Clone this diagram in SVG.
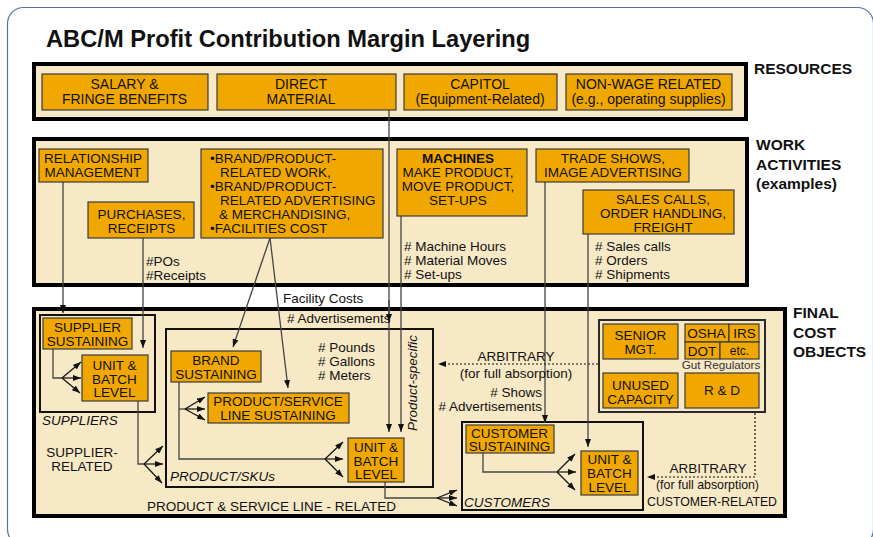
<svg xmlns="http://www.w3.org/2000/svg" width="873" height="537" viewBox="0 0 873 537">
  <defs>
    <style>
      .t{font-family:"Liberation Sans",Arial,Helvetica,sans-serif;font-size:13.5px;fill:#111}
      .c{text-anchor:middle}
      .e{text-anchor:end}
      .i{font-style:italic}
      .b{font-weight:bold}
      .lbl{font-family:"Liberation Sans",Arial,Helvetica,sans-serif;font-size:15.5px;font-weight:bold;fill:#111}
      .ctr{fill:#f7e9c6;stroke:#000;stroke-width:4}
      .sub{fill:#f7e9c6;stroke:#111;stroke-width:2}
      .box{fill:#f0a800;stroke:#3b3b3b;stroke-width:1.2}
      .ln{fill:none;stroke:#444;stroke-width:1.3}
      .ar{marker-end:url(#ah)}
      .fan{fill:none;stroke:#111;stroke-width:1.2;marker-end:url(#ah)}
      .dot{fill:none;stroke:#111;stroke-width:1.2;stroke-dasharray:2 2;marker-end:url(#ah)}
    </style>
    <marker id="ah" viewBox="0 0 8 6" refX="8" refY="3" markerWidth="8" markerHeight="6" markerUnits="userSpaceOnUse" orient="auto">
      <path d="M0,0 L8,3 L0,6 z" fill="#111"/>
    </marker>
  </defs>

  <!-- page frame -->
  <rect x="7.5" y="7.5" width="866" height="538" rx="16" fill="#fff" stroke="#5373a3" stroke-width="1.2"/>

  <text x="46" y="47" class="t b" style="font-size:23.7px">ABC/M Profit Contribution Margin Layering</text>

  <!-- layer containers -->
  <g id="layers">
    <rect class="ctr" x="34" y="64" width="712" height="55"/>
    <rect class="ctr" x="34" y="139" width="713" height="146"/>
    <rect class="ctr" x="34" y="309" width="751" height="207"/>
    <text class="lbl" x="754" y="74">RESOURCES</text>
    <text class="lbl" x="756" y="150">WORK</text>
    <text class="lbl" x="756" y="169.5">ACTIVITIES</text>
    <text class="lbl" x="756" y="189">(examples)</text>
    <text class="lbl" x="793" y="318">FINAL</text>
    <text class="lbl" x="793" y="337.5">COST</text>
    <text class="lbl" x="793" y="357">OBJECTS</text>
  </g>

  <!-- cost object groupings -->
  <g id="suppliers">
    <rect class="sub" x="40" y="315" width="115" height="97"/>
    <text class="t i" x="42" y="425">SUPPLIERS</text>
    <text class="t c" x="82" y="457">SUPPLIER-</text>
    <text class="t c" x="82" y="470.5">RELATED</text>
  </g>
  <g id="products">
    <rect class="sub" x="166" y="329" width="267" height="158"/>
    <text class="t i" x="170" y="481">PRODUCT/SKUs</text>
    <text class="t" x="147" y="511">PRODUCT &amp; SERVICE LINE - RELATED</text>
  </g>
  <g id="customers">
    <rect class="sub" x="462" y="422" width="181" height="88"/>
    <text class="t i" x="464" y="507">CUSTOMERS</text>
  </g>
  <g id="overhead">
    <rect class="sub" x="599" y="320" width="166" height="92" style="stroke:#2a2a2a"/>
  </g>

  <!-- connectors -->
  <g id="connectors">
    <path class="ln ar" d="M389,110 V432"/>
    <path class="ln ar" d="M389,300 V322"/>
    <path class="ln ar" d="M401,216 V432"/>
    <path class="ln ar" d="M63,182 V313"/>
    <path class="ln ar" d="M143,238 V348"/>
    <path class="ln ar" d="M270,238 L233,347"/>
    <path class="ln ar" d="M270,238 L288,388"/>
    <path class="ln ar" d="M545,182 V423"/>
    <path class="ln ar" d="M588,234 V447"/>

    <path class="ln" d="M53,349 V378 H62"/>
    <path class="fan" d="M62,378 L81,362"/>
    <path class="fan" d="M62,378 L81,378"/>
    <path class="fan" d="M62,378 L80,393"/>

    <path class="ln" d="M138,401 V464 H144"/>
    <path class="fan" d="M144,464 L163,446"/>
    <path class="fan" d="M144,464 L163,464"/>
    <path class="fan" d="M144,464 L162,483"/>

    <path class="ln" d="M179,382 V459 H325"/>
    <path class="ln" d="M179,409 H185"/>
    <path class="fan" d="M185,409 L205,397"/>
    <path class="fan" d="M185,409 L205,409"/>
    <path class="fan" d="M185,409 L205,420"/>
    <path class="fan" d="M325,459 L343,442"/>
    <path class="fan" d="M325,459 L343,459"/>
    <path class="fan" d="M325,459 L343,477"/>

    <path class="ln" d="M385,482 V498 H437"/>
    <path class="fan" d="M437,498 L457,490"/>
    <path class="fan" d="M437,498 L457,498"/>
    <path class="fan" d="M437,498 L457,506"/>

    <path class="ln" d="M483,453 V472 H557"/>
    <path class="fan" d="M557,472 L575,454"/>
    <path class="fan" d="M557,472 L576,472"/>
    <path class="fan" d="M557,472 L575,490"/>

    <path class="dot" d="M598,364 H438"/>
    <path class="dot" d="M755,413 V477 H647"/>

    <text class="t" x="283" y="303">Facility Costs</text>
    <text class="t" x="146" y="266">#POs</text>
    <text class="t" x="146" y="280">#Receipts</text>
    <text class="t" x="404" y="251"># Machine Hours</text>
    <text class="t" x="404" y="265"># Material Moves</text>
    <text class="t" x="404" y="279"># Set-ups</text>
    <text class="t" x="595" y="251"># Sales calls</text>
    <text class="t" x="595" y="265"># Orders</text>
    <text class="t" x="595" y="279"># Shipments</text>
    <text class="t" x="287" y="323"># Advertisements</text>
    <text class="t" x="318" y="352"># Pounds</text>
    <text class="t" x="318" y="366"># Gallons</text>
    <text class="t" x="318" y="379.5"># Meters</text>
    <text class="t c i" transform="translate(417,383) rotate(-90)">Product-specific</text>
    <text class="t c" x="516" y="361">ARBITRARY</text>
    <text class="t c" x="516" y="377.5">(for full absorption)</text>
    <text class="t e" x="542" y="397"># Shows</text>
    <text class="t e" x="542" y="411"># Advertisements</text>
    <text class="t c" x="708" y="473">ARBITRARY</text>
    <text class="t" x="656" y="489" textLength="103" lengthAdjust="spacingAndGlyphs">(for full absorption)</text>
    <text class="t" x="647" y="506" textLength="130" lengthAdjust="spacingAndGlyphs">CUSTOMER-RELATED</text>
  </g>

  <!-- resources -->
  <g id="salary">
    <rect class="box" x="42" y="74" width="166" height="36"/>
    <text class="t c" x="124.5" y="89" style="font-size:14px">SALARY &amp;</text>
    <text class="t c" x="124.5" y="104" style="font-size:14px">FRINGE BENEFITS</text>
  </g>
  <g id="direct-material">
    <rect class="box" x="217" y="74" width="179" height="36"/>
    <text class="t c" x="301" y="89" style="font-size:14px">DIRECT</text>
    <text class="t c" x="301" y="104" style="font-size:14px">MATERIAL</text>
  </g>
  <g id="capitol">
    <rect class="box" x="404" y="74" width="153" height="36"/>
    <text class="t c" x="480" y="89" style="font-size:14px">CAPITOL</text>
    <text class="t c" x="480" y="104" style="font-size:14px">(Equipment-Related)</text>
  </g>
  <g id="non-wage">
    <rect class="box" x="566" y="74" width="166" height="36"/>
    <text class="t c" x="648.5" y="89" style="font-size:14px">NON-WAGE RELATED</text>
    <text class="t c" x="648.5" y="104" style="font-size:14px">(e.g., operating supplies)</text>
  </g>

  <!-- work activities -->
  <g id="relationship">
    <rect class="box" x="39" y="149" width="109" height="33"/>
    <text class="t c" x="93" y="163">RELATIONSHIP</text>
    <text class="t c" x="93" y="177">MANAGEMENT</text>
  </g>
  <g id="purchases">
    <rect class="box" x="88" y="202" width="106" height="36"/>
    <text class="t c" x="141.5" y="219">PURCHASES,</text>
    <text class="t c" x="141.5" y="232.5">RECEIPTS</text>
  </g>
  <g id="brand-work">
    <rect class="box" x="201" y="149" width="182" height="89"/>
    <text class="t" x="210" y="163">•BRAND/PRODUCT-</text>
    <text class="t" x="220" y="177">RELATED WORK,</text>
    <text class="t" x="210" y="191">•BRAND/PRODUCT-</text>
    <text class="t" x="220" y="205">RELATED ADVERTISING</text>
    <text class="t" x="219" y="219">&amp; MERCHANDISING,</text>
    <text class="t" x="210" y="233">•FACILITIES COST</text>
  </g>
  <g id="machines">
    <rect class="box" x="397" y="149" width="130" height="67"/>
    <text class="t c b" x="458" y="163">MACHINES</text>
    <text class="t c" x="458" y="177">MAKE PRODUCT,</text>
    <text class="t c" x="458" y="191">MOVE PRODUCT,</text>
    <text class="t c" x="458" y="205">SET-UPS</text>
  </g>
  <g id="trade-shows">
    <rect class="box" x="536" y="149" width="153" height="33"/>
    <text class="t c" x="613" y="163">TRADE SHOWS,</text>
    <text class="t c" x="613" y="177">IMAGE ADVERTISING</text>
  </g>
  <g id="sales-calls">
    <rect class="box" x="583" y="190" width="151" height="44"/>
    <text class="t c" x="663" y="204">SALES CALLS,</text>
    <text class="t c" x="663" y="218">ORDER HANDLING,</text>
    <text class="t c" x="663" y="232">FREIGHT</text>
  </g>

  <!-- final cost objects -->
  <g id="supplier-sustaining">
    <rect class="box" x="43" y="318" width="89" height="31"/>
    <text class="t c" x="87.5" y="332">SUPPLIER</text>
    <text class="t c" x="87.5" y="346">SUSTAINING</text>
  </g>
  <g id="supplier-unit">
    <rect class="box" x="82" y="355" width="66" height="46"/>
    <text class="t c" x="114.5" y="370">UNIT &amp;</text>
    <text class="t c" x="114.5" y="383.5">BATCH</text>
    <text class="t c" x="114.5" y="397">LEVEL</text>
  </g>
  <g id="brand-sustaining">
    <rect class="box" x="171" y="351" width="90" height="31"/>
    <text class="t c" x="216" y="365">BRAND</text>
    <text class="t c" x="216" y="379">SUSTAINING</text>
  </g>
  <g id="line-sustaining">
    <rect class="box" x="208" y="393" width="141" height="30"/>
    <text class="t c" x="278" y="406">PRODUCT/SERVICE</text>
    <text class="t c" x="278" y="419.5">LINE SUSTAINING</text>
  </g>
  <g id="product-unit">
    <rect class="box" x="348" y="438" width="56" height="44"/>
    <text class="t c" x="376" y="452">UNIT &amp;</text>
    <text class="t c" x="376" y="465.5">BATCH</text>
    <text class="t c" x="376" y="479">LEVEL</text>
  </g>
  <g id="customer-sustaining">
    <rect class="box" x="466" y="425" width="88" height="28"/>
    <text class="t c" x="509.5" y="437.5">CUSTOMER</text>
    <text class="t c" x="509.5" y="451">SUSTAINING</text>
  </g>
  <g id="customer-unit">
    <rect class="box" x="581" y="451" width="57" height="44"/>
    <text class="t c" x="609.5" y="464">UNIT &amp;</text>
    <text class="t c" x="609.5" y="478">BATCH</text>
    <text class="t c" x="609.5" y="492">LEVEL</text>
  </g>
  <g id="senior-mgt">
    <rect class="box" x="603" y="324" width="75" height="35"/>
    <text class="t c" x="640.5" y="340">SENIOR</text>
    <text class="t c" x="640.5" y="354">MGT.</text>
  </g>
  <g id="regulators">
    <rect class="box" x="685" y="324" width="44" height="18"/>
    <rect class="box" x="729" y="324" width="30" height="18"/>
    <rect class="box" x="685" y="342" width="35" height="17"/>
    <rect class="box" x="720" y="342" width="39" height="17"/>
    <text class="t c" x="706.5" y="338">OSHA</text>
    <text class="t c" x="744.5" y="338">IRS</text>
    <text class="t c" x="702" y="356">DOT</text>
    <text class="t c" x="739.5" y="355" style="font-size:12px">etc.</text>
    <text class="t c" x="721" y="369" style="font-size:11.7px;fill:#333">Gut Regulators</text>
  </g>
  <g id="unused-capacity">
    <rect class="box" x="603" y="373" width="75" height="35"/>
    <text class="t c" x="640.5" y="390">UNUSED</text>
    <text class="t c" x="640.5" y="404">CAPACITY</text>
  </g>
  <g id="r-and-d">
    <rect class="box" x="685" y="373" width="74" height="35"/>
    <text class="t c" x="722" y="395">R &amp; D</text>
  </g>
</svg>
